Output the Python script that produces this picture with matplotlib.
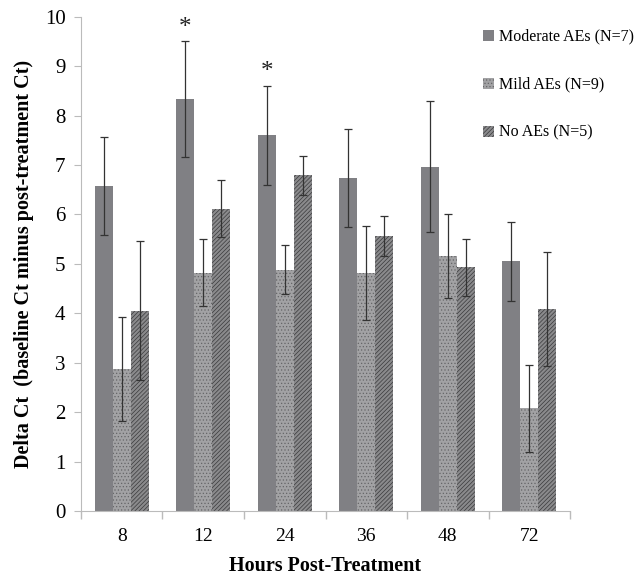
import matplotlib
matplotlib.use('Agg')
import matplotlib.pyplot as plt
import numpy as np

plt.rcParams['font.family'] = ['Liberation Serif', 'DejaVu Serif']
plt.rcParams['hatch.linewidth'] = 0.5

hours = ['8', '12', '24', '36', '48', '72']
groups = ['Moderate AEs (N=7)', 'Mild AEs (N=9)', 'No AEs (N=5)']

moderate = [6.57, 8.33, 7.60, 6.74, 6.97, 5.05]
mild = [2.87, 4.82, 4.88, 4.81, 5.16, 2.08]
no_aes = [4.05, 6.12, 6.79, 5.56, 4.93, 4.08]

moderate_err = [0.99, 1.17, 1.00, 0.99, 1.32, 0.80]
mild_err = [1.05, 0.68, 0.50, 0.95, 0.85, 0.88]
no_aes_err = [1.41, 0.57, 0.40, 0.40, 0.58, 1.15]

# significant groups (star above moderate bar)
stars = ['12', '24']

fig = plt.figure(figsize=(6.37, 5.78), dpi=100)
ax = fig.add_axes([0.127, 0.116, 0.768, 0.855])

x = np.arange(len(hours))
w = 0.22
styles = [
    dict(color='#808084', hatch=None, edgecolor='#808084'),
    dict(color='#a2a2a4', hatch='.....', edgecolor='#666668'),
    dict(color='#8a8a8c', hatch='////////', edgecolor='#3a3a3c'),
]
series = [moderate, mild, no_aes]
errs = [moderate_err, mild_err, no_aes_err]

handles = []
for i, (vals, err, st) in enumerate(zip(series, errs, styles)):
    b = ax.bar(x + (i - 1) * w, vals, w, color=st['color'], hatch=st['hatch'],
               edgecolor=st['edgecolor'], linewidth=0, label=groups[i])
    ax.errorbar(x + (i - 1) * w, vals, yerr=err, fmt='none', ecolor='#333333',
                elinewidth=0.9, capsize=3, capthick=0.9)
    handles.append(b)

for h in stars:
    j = hours.index(h)
    top = moderate[j] + moderate_err[j]
    ax.text(x[j] - w, top + 0.05, '*', ha='center', va='bottom', fontsize=18,
            color='#222222')

ax.set_xlim(-0.5, len(hours) - 0.5)
ax.set_ylim(0, 10)
ax.set_yticks(range(0, 11))
ax.set_xticks(x)
ax.set_xticklabels(hours)
ax.set_xticks(np.arange(-0.5, len(hours)), minor=True)
ax.tick_params(axis='x', which='major', length=0, pad=12, labelsize=14)
ax.tick_params(axis='x', which='minor', length=6, color='#bbbbbb', width=1)
ax.tick_params(axis='y', length=5, color='#bbbbbb', labelsize=15, pad=6)

for s in ['top', 'right']:
    ax.spines[s].set_visible(False)
for s in ['left', 'bottom']:
    ax.spines[s].set_color('#bbbbbb')

ax.set_ylabel('Delta Ct  (baseline Ct minus post-treatment Ct)', fontsize=14.5,
              fontweight='bold', labelpad=8)
ax.set_xlabel('Hours Post-Treatment', fontsize=14.5, fontweight='bold', labelpad=8)

fig.legend(handles=handles, labels=groups, loc='upper left',
           bbox_to_anchor=(0.735, 0.975), frameon=False, fontsize=11.5,
           handlelength=0.7, handleheight=0.7, handletextpad=0.3,
           labelspacing=2.0)

fig.savefig('out.png', dpi=100)
